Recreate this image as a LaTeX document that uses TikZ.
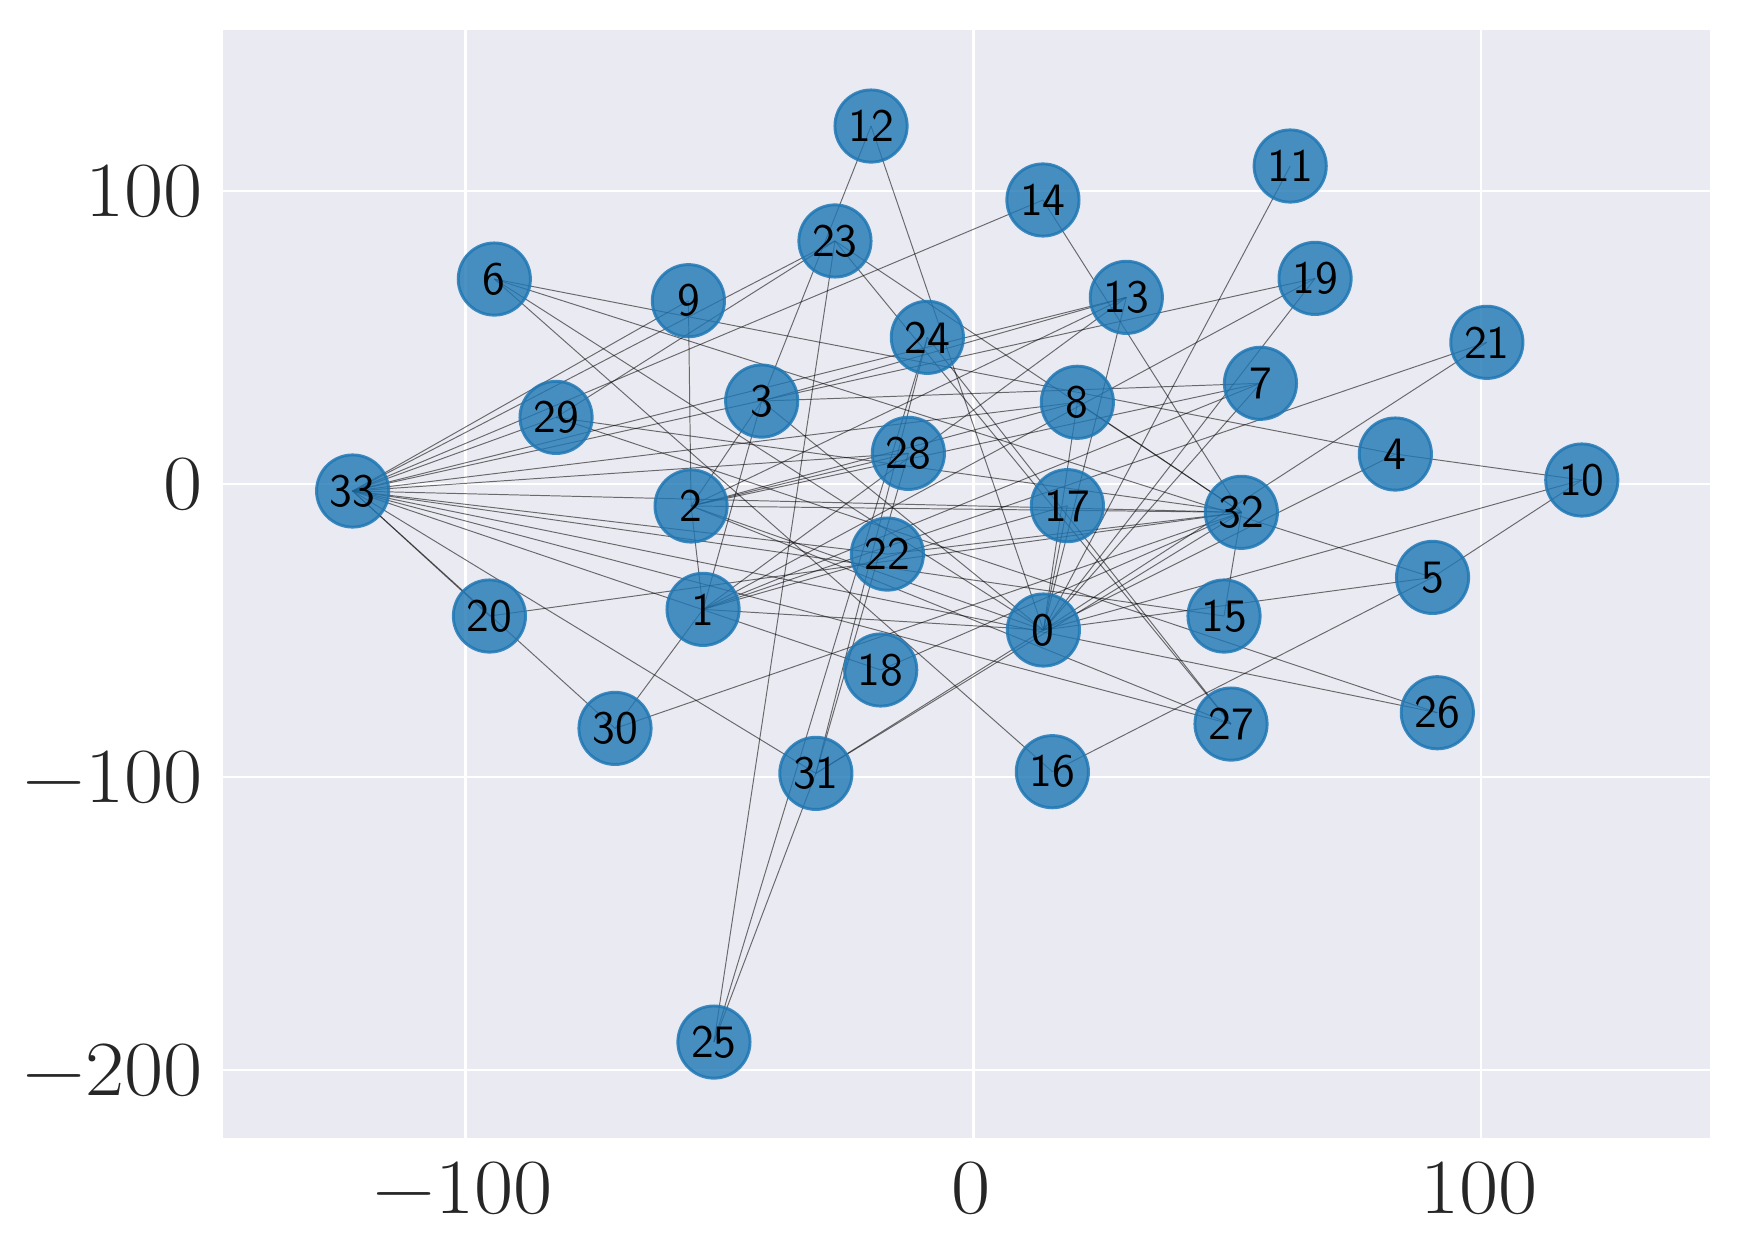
\documentclass[tikz,border=0pt]{standalone}
\definecolor{bgc}{HTML}{EAEAF2}
\definecolor{nodec}{HTML}{1F77B4}
\definecolor{tickc}{HTML}{262626}
\pgfdeclarelayer{bglayer}
\pgfdeclarelayer{edgelayer}
\pgfsetlayers{bglayer,edgelayer,main}
\newcommand{\tlab}[1]{\scalebox{1.09}[1]{#1}}
\tikzset{
  vert/.style={circle, minimum size=0.65cm, inner sep=0pt, fill=nodec, fill opacity=0.8,
    draw=nodec, draw opacity=0.85, line width=0.75pt, text opacity=1, text=black,
    font=\fontsize{11.9}{14}\selectfont\sffamily},
  link/.style={draw=black, draw opacity=0.55, line width=0.25pt},
  gridln/.style={draw=white, line width=0.7pt},
  ticklab/.style={text=tickc, inner sep=0pt, font=\fontsize{20}{24}\selectfont}
}
\begin{document}
\begin{tikzpicture}[x=0.01cm,y=-0.01cm]
\useasboundingbox (0,0) rectangle (1568,1132);
% nodes
\foreach \i/\x/\y in {
 0/939.7/567.4, 1/633.2/548.8, 2/622.4/455.7, 3/686/361.2, 4/1256.7/408.9,
 5/1290.2/520, 6/445.2/251.3, 7/1135.2/345.2, 8/970.3/362.3, 9/620/270.8,
 10/1424.6/432.3, 11/1162/149.5, 12/784.5/113.5, 13/1014.4/267.8, 14/939.3/180.1,
 15/1102.4/554.8, 16/947.8/695, 17/961.3/455.4, 18/793.2/603.4, 19/1184.4/250.7,
 20/440.8/554.8, 21/1339.1/308.3, 22/799.2/499, 23/752/217, 24/835.2/303.8,
 25/643/938.5, 26/1294.5/641.9, 27/1108.7/652.1, 28/818.1/408.3, 29/500.8/375.9,
 30/553.9/656, 31/734.8/696.5, 32/1118/461.4, 33/317.6/442.2}
 \node[vert] (n\i) at (\x,\y) {\i};
% background and grid
\begin{pgfonlayer}{bglayer}
 \fill[bgc] (201,27) rectangle (1540,1025);
 \foreach \gx in {419.4,876.6,1333.8} \draw[gridln] (\gx,27) -- (\gx,1025);
 \foreach \gy in {172.0,435.9,699.8,963.7} \draw[gridln] (201,\gy) -- (1540,\gy);
\end{pgfonlayer}
% edges
\begin{pgfonlayer}{edgelayer}
\foreach \a/\b in {0/1,0/2,0/3,0/4,0/5,0/6,0/7,0/8,0/10,0/11,0/12,0/13,0/17,0/19,0/21,0/31,
 1/2,1/3,1/7,1/13,1/17,1/19,1/21,1/30,
 2/3,2/7,2/8,2/9,2/13,2/27,2/28,2/32,
 3/7,3/12,3/13,4/6,4/10,5/6,5/10,5/16,6/16,
 8/32,8/33,9/33,13/33,14/32,14/33,15/32,15/33,18/32,18/33,19/33,20/32,20/33,22/32,22/33,
 23/25,23/27,23/29,23/32,23/33,24/25,24/27,24/31,25/31,26/29,26/33,27/33,
 28/31,28/33,29/32,29/33,30/32,30/33,31/32,31/33,32/33}
 \draw[link] (n\a.center) -- (n\b.center);
\end{pgfonlayer}
% tick labels
\node[ticklab, anchor=east] (ly1) at (183,172.0) {\tlab{100}};
\node[ticklab, anchor=east] (ly2) at (183,435.9) {\tlab{0}};
\node[ticklab, anchor=east] (ly3) at (183,699.8) {\tlab{−100}};
\node[ticklab, anchor=east] (ly4) at (183,963.7) {\tlab{−200}};
\node[ticklab] (lx1) at (417,1070) {\tlab{−100}};
\node[ticklab] (lx2) at (874.6,1070) {\tlab{0}};
\node[ticklab] (lx3) at (1331.8,1070) {\tlab{100}};
\end{tikzpicture}
\end{document}
